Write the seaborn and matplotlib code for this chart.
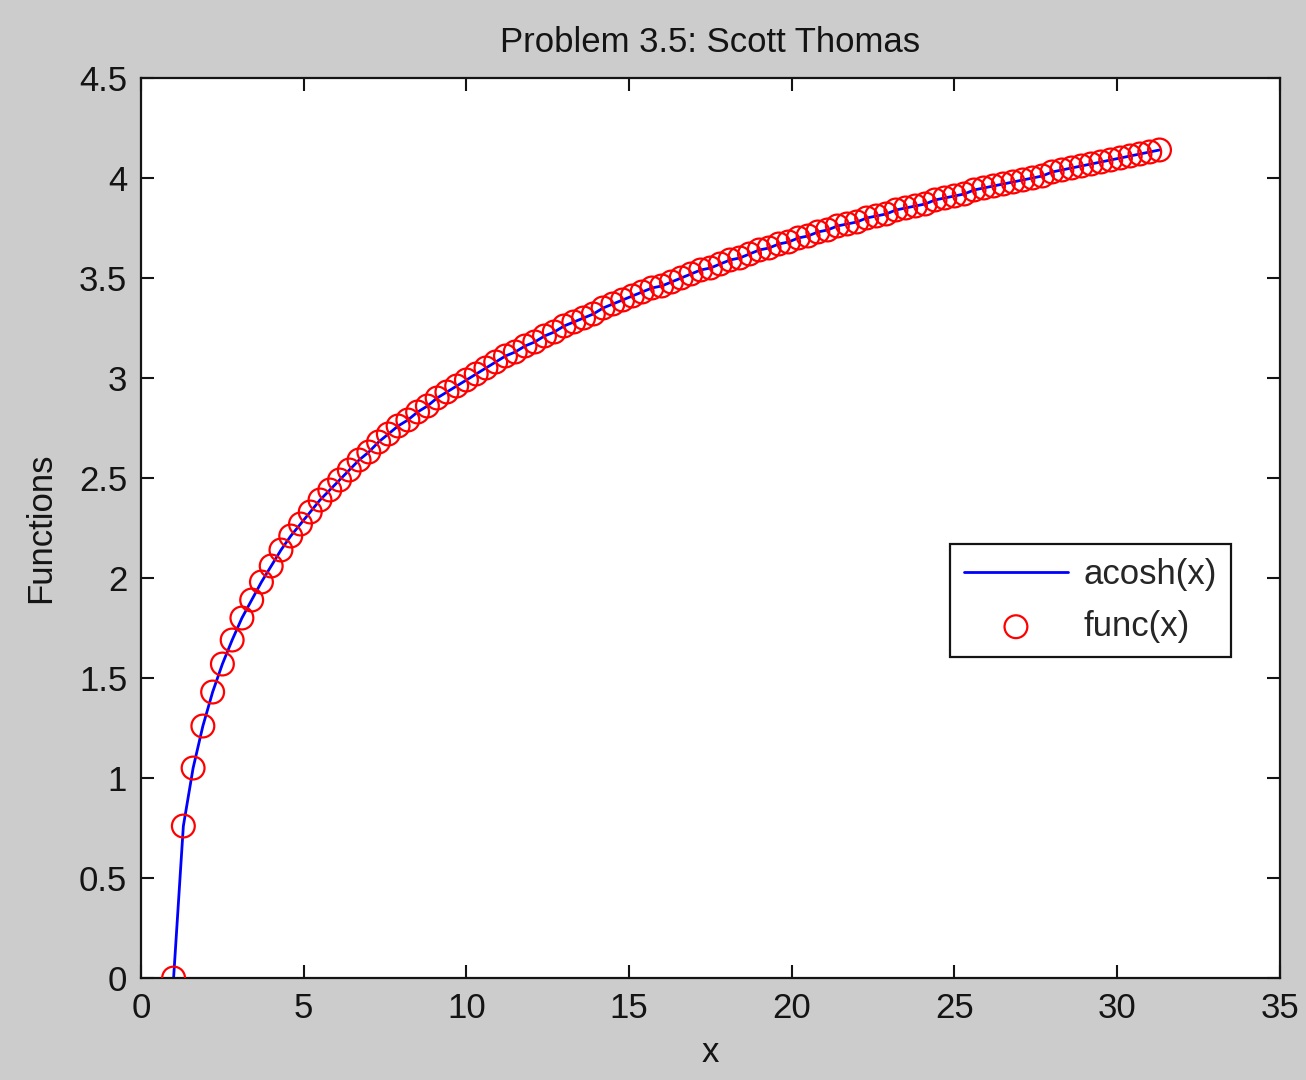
import matplotlib
matplotlib.use('Agg')
import matplotlib.pyplot as plt
import seaborn as sns
import pandas as pd

# ---------- data ----------
x_vals = [1.0, 1.3, 1.6, 1.9, 2.2, 2.5, 2.8, 3.1, 3.4, 3.7,
          4.0, 4.3, 4.6, 4.9, 5.2, 5.5, 5.8, 6.1, 6.4, 6.7,
          7.0, 7.3, 7.6, 7.9, 8.2, 8.5, 8.8, 9.1, 9.4, 9.7,
          10.0, 10.3, 10.6, 10.9, 11.2, 11.5, 11.8, 12.1, 12.4, 12.7,
          13.0, 13.3, 13.6, 13.9, 14.2, 14.5, 14.8, 15.1, 15.4, 15.7,
          16.0, 16.3, 16.6, 16.9, 17.2, 17.5, 17.8, 18.1, 18.4, 18.7,
          19.0, 19.3, 19.6, 19.9, 20.2, 20.5, 20.8, 21.1, 21.4, 21.7,
          22.0, 22.3, 22.6, 22.9, 23.2, 23.5, 23.8, 24.1, 24.4, 24.7,
          25.0, 25.3, 25.6, 25.9, 26.2, 26.5, 26.8, 27.1, 27.4, 27.7,
          28.0, 28.3, 28.6, 28.9, 29.2, 29.5, 29.8, 30.1, 30.4, 30.7,
          31.0, 31.3]

acosh_vals = [0.00, 0.76, 1.05, 1.26, 1.43, 1.57, 1.69, 1.80, 1.89, 1.98,
              2.06, 2.14, 2.21, 2.27, 2.33, 2.39, 2.44, 2.49, 2.54, 2.59,
              2.63, 2.68, 2.72, 2.76, 2.79, 2.83, 2.86, 2.90, 2.93, 2.96,
              2.99, 3.02, 3.05, 3.08, 3.11, 3.13, 3.16, 3.18, 3.21, 3.23,
              3.26, 3.28, 3.30, 3.32, 3.35, 3.37, 3.39, 3.41, 3.43, 3.45,
              3.46, 3.48, 3.50, 3.52, 3.54, 3.55, 3.57, 3.59, 3.60, 3.62,
              3.64, 3.65, 3.67, 3.68, 3.70, 3.71, 3.73, 3.74, 3.76, 3.77,
              3.78, 3.80, 3.81, 3.82, 3.84, 3.85, 3.86, 3.87, 3.89, 3.90,
              3.91, 3.92, 3.94, 3.95, 3.96, 3.97, 3.98, 3.99, 4.00, 4.01,
              4.03, 4.04, 4.05, 4.06, 4.07, 4.08, 4.09, 4.10, 4.11, 4.12,
              4.13, 4.14]

# func(x) gives the same values as acosh(x)
func_vals = list(acosh_vals)

x_ticks = [0, 5, 10, 15, 20, 25, 30, 35]
y_ticks = [0, 0.5, 1, 1.5, 2, 2.5, 3, 3.5, 4, 4.5]
y_ticklabels = ['0', '0.5', '1', '1.5', '2', '2.5', '3', '3.5', '4', '4.5']

df = pd.DataFrame({'x': x_vals, 'acosh': acosh_vals, 'func': func_vals})

# ---------- plot ----------
sns.set_style('white')
plt.rcParams['font.family'] = ['Liberation Sans', 'DejaVu Sans']

fig = plt.figure(figsize=(13.06, 10.8), dpi=100, facecolor='#cccccc')
ax = fig.add_axes([0.108, 0.0944, 0.872, 0.8334])
ax.set_facecolor('white')

ink = '#141414'

sns.lineplot(data=df, x='x', y='acosh', color='#0000ff', linewidth=2.0,
             label='acosh(x)', ax=ax)
sns.scatterplot(data=df, x='x', y='func', marker='o', s=270,
                facecolors='none', edgecolor='#ff0000', linewidth=1.6,
                label='func(x)', ax=ax, zorder=3)

ax.set_xlim(0, 35)
ax.set_ylim(0, 4.5)
ax.set_xticks(x_ticks)
ax.set_yticks(y_ticks)
ax.set_yticklabels(y_ticklabels)

fs = 25
ax.tick_params(direction='in', length=9.5, width=1.5, labelsize=fs,
               top=True, right=True, bottom=True, left=True, pad=10,
               colors=ink)
for sp in ax.spines.values():
    sp.set_visible(True)
    sp.set_color(ink)
    sp.set_linewidth(1.6)

ax.set_title('Problem 3.5: Scott Thomas', fontsize=fs, pad=19, color=ink)
ax.set_xlabel('x', fontsize=fs, color=ink, labelpad=8)
ax.set_ylabel('Functions', fontsize=fs, color=ink, labelpad=16)

leg = ax.legend(loc='lower right', bbox_to_anchor=(0.957, 0.357),
                borderaxespad=0, fontsize=fs, frameon=True, fancybox=False,
                edgecolor=ink, framealpha=1, handlelength=3.0,
                borderpad=0.4, labelspacing=0.55, handletextpad=0.45)
leg.get_frame().set_linewidth(1.6)

fig.savefig('out.png', dpi=100, facecolor=fig.get_facecolor())
